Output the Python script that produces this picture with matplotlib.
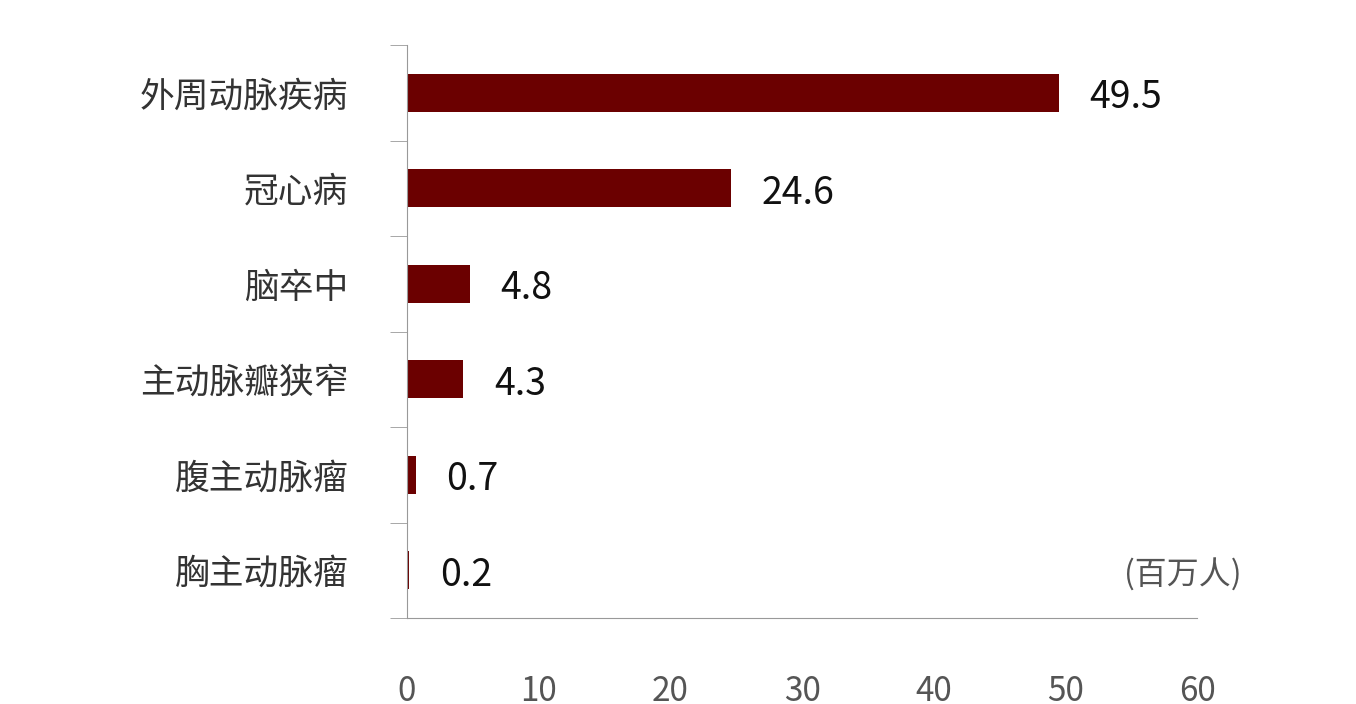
import matplotlib.pyplot as plt
import numpy as np

plt.rcParams['font.family'] = ['Noto Sans CJK SC', 'DejaVu Sans']

categories = ['外周动脉疾病', '冠心病', '脑卒中', '主动脉瓣狭窄', '腹主动脉瘤', '胸主动脉瘤']
values = [49.5, 24.6, 4.8, 4.3, 0.7, 0.2]
value_labels = ['49.5', '24.6', '4.8', '4.3', '0.7', '0.2']
xticks = [0, 10, 20, 30, 40, 50, 60]

fig = plt.figure(figsize=(13.56, 7.04), dpi=100)
ax = fig.add_axes([0.300, 0.122, 0.583, 0.814])

y = np.arange(len(categories))
ax.barh(y, values, height=0.4, color='#6b0000')
for yi, v, lab in zip(y, values, value_labels):
    ax.text(v + 2.3, yi + 0.05, lab, va='center', ha='left', fontsize=27, color='#111111')

ax.set_xlim(0, 60)
ax.set_ylim(len(categories) - 0.5, -0.5)
ax.set_yticks(y)
ax.set_yticklabels(categories, fontsize=25, color='#333333')
ax.set_yticks(np.arange(-0.5, len(categories)), minor=True)
ax.tick_params(axis='y', which='major', length=0, pad=42)
ax.tick_params(axis='y', which='minor', length=12, color='#999999')
ax.set_xticks(xticks)
ax.set_xticklabels([str(t) for t in xticks], fontsize=24, color='#555555')
ax.tick_params(axis='x', length=0, pad=40)

for s in ['top', 'right']:
    ax.spines[s].set_visible(False)
ax.spines['left'].set_color('#999999')
ax.spines['bottom'].set_color('#999999')

ax.text(1242 / 1356, 1 - 575 / 704, '(百万人)', transform=fig.transFigure,
        ha='right', va='center', fontsize=23, color='#555555')

fig.savefig('out.png', dpi=100)
